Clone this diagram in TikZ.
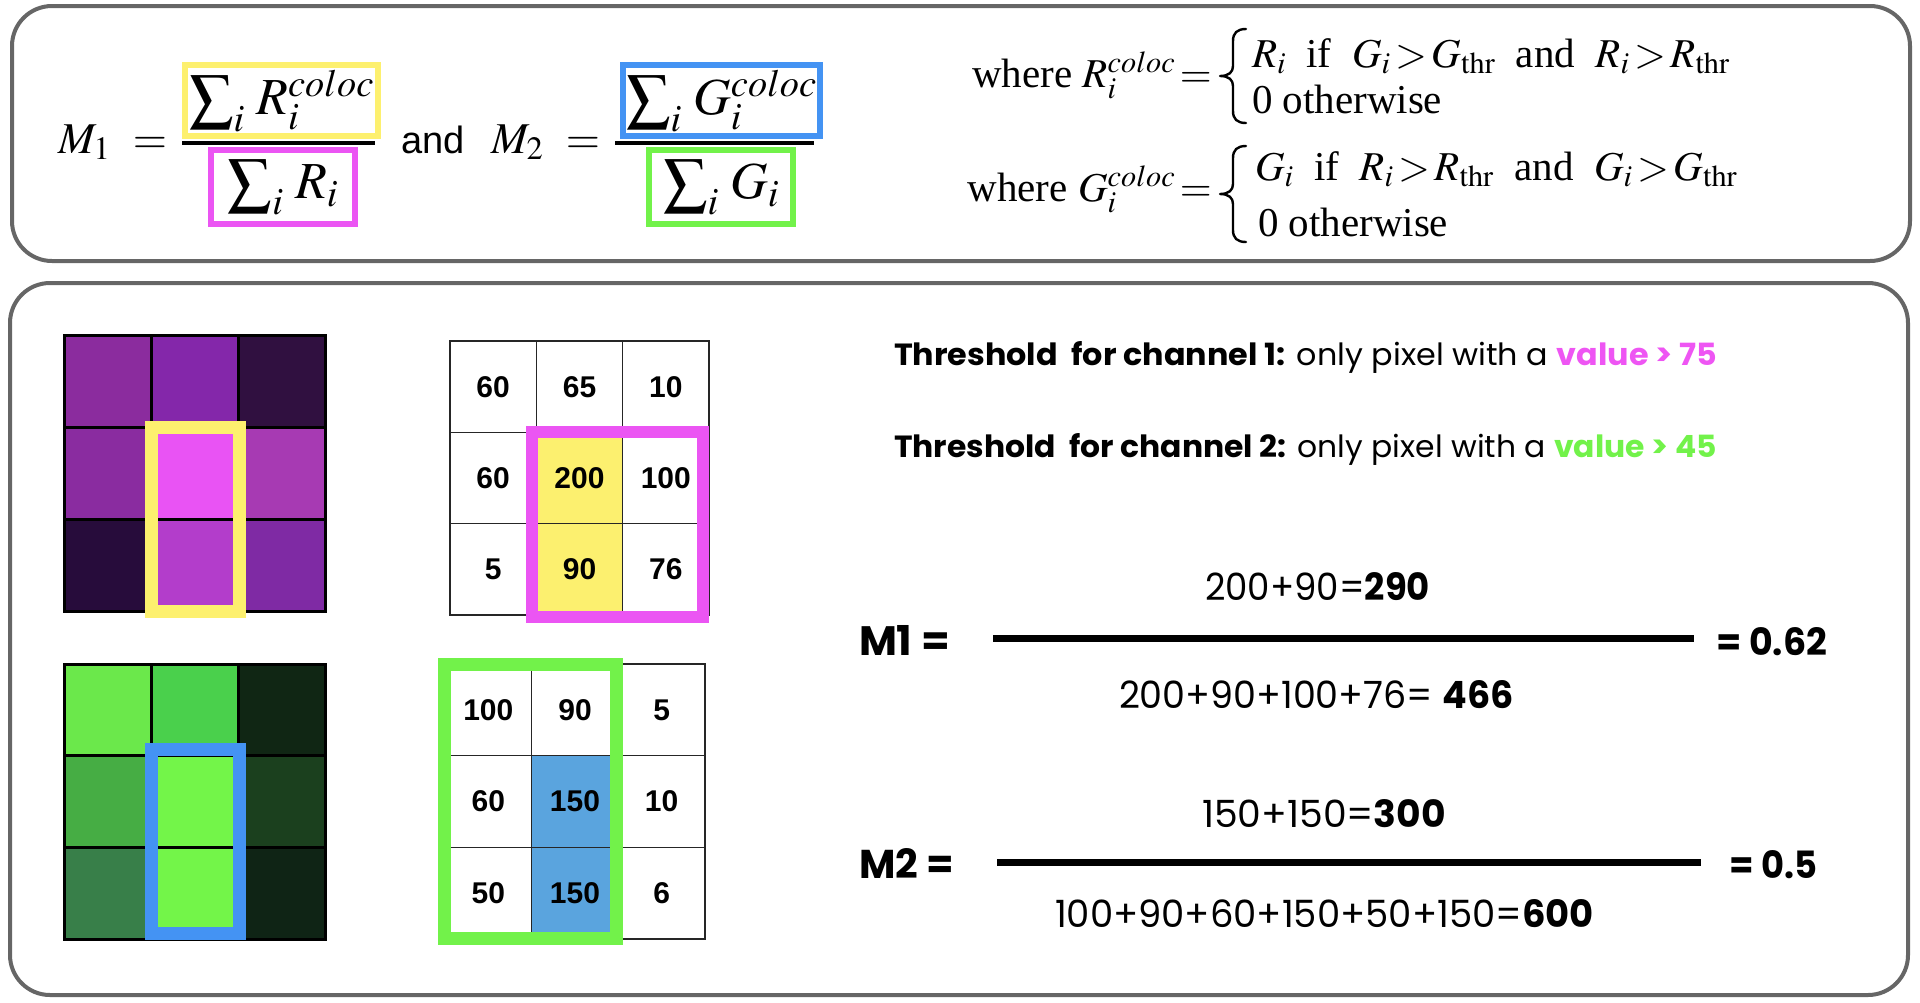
\documentclass[tikz,border=0pt]{standalone}
\usepackage{mathptmx}
\usepackage{fontspec}
\usepackage{graphicx}
\setmainfont{Liberation Serif}
\newfontfamily\sansA{Liberation Sans}
\newfontfamily\geo{Poppins}
\newcommand\myfs[1]{\fontsize{#1}{#1}\selectfont}
\newcommand\fitbox[3]{\resizebox{#1pt}{#2pt}{\geo\myfs{30}#3}}
\newcommand\bigsig{\mbox{\raisebox{-0.06em}{\scalebox{1.2}{$\textstyle\sum$}}}}
\definecolor{framegray}{RGB}{102,102,102}
\definecolor{ybox}{RGB}{253,240,110}
\definecolor{pbox}{RGB}{235,85,243}
\definecolor{bbox}{RGB}{68,147,243}
\definecolor{gbox}{RGB}{114,242,74}
\definecolor{yfill}{RGB}{252,240,111}
\definecolor{bfill}{RGB}{90,164,222}
\definecolor{tpink}{RGB}{238,85,243}
\definecolor{tgreen}{RGB}{114,242,74}
% purple pixels
\definecolor{pa}{RGB}{139,44,158}
\definecolor{pb}{RGB}{132,39,170}
\definecolor{pc}{RGB}{48,16,64}
\definecolor{pd}{RGB}{138,44,160}
\definecolor{pe}{RGB}{233,83,244}
\definecolor{pf}{RGB}{167,58,179}
\definecolor{pg}{RGB}{39,12,59}
\definecolor{ph}{RGB}{179,61,203}
\definecolor{pi}{RGB}{127,42,164}
% green pixels
\definecolor{ga}{RGB}{107,232,75}
\definecolor{gb}{RGB}{74,208,76}
\definecolor{gc}{RGB}{16,38,20}
\definecolor{gd}{RGB}{70,173,68}
\definecolor{ge}{RGB}{115,245,73}
\definecolor{gf}{RGB}{27,64,30}
\definecolor{gg}{RGB}{56,127,73}
\definecolor{gh}{RGB}{115,245,73}
\definecolor{gi}{RGB}{15,36,21}
\begin{document}
\begin{tikzpicture}[x=1pt,y=-1pt,
  frame/.style={draw=framegray, line width=4pt, rounded corners=40pt},
  pix/.style={draw=black, line width=3pt, minimum width=87.33pt, minimum height=92pt, inner sep=0pt, outer sep=0pt},
  tcellA/.style={draw=black!85, line width=1.4pt, minimum width=86.33pt, minimum height=91.33pt, inner sep=0pt, outer sep=0pt, font=\sansA\bfseries\myfs{30}},
  tcellB/.style={tcellA, minimum width=86.67pt, minimum height=91.67pt},
  selbox/.style={line width=13pt, inner sep=0pt, outer sep=0pt},
  fracbox/.style={line width=6pt, inner sep=0pt, outer sep=0pt, font=\myfs{52}},
  txt/.style={anchor=base west, inner sep=0pt, outer sep=0pt},
  deftxt/.style={txt, font=\myfs{41}},
  bar/.style={line width=4pt},
  bigbar/.style={line width=7pt},
  bracepath/.style={line width=2.4pt, line cap=round, line join=round}]
\useasboundingbox (0,0) rectangle (1920,1002);

% frames
\draw[frame] (12,6) rectangle (1910,261);
\draw[frame] (10,283) rectangle (1908,995);

% ---------- top-left formulas ----------
\node[txt, font=\myfs{44}] (m1) at (58,153) {$M_1$};
\node[anchor=base, inner sep=0pt, font=\myfs{44}] (eq1) at (150,153) {$=$};
\draw[bar] (182,143) -- (375,143);
\node[fracbox, draw=ybox, minimum width=193pt, minimum height=71pt] (num1) at (281.5,100.5) {$\bigsig_i\;R_i^{coloc}$};
\node[fracbox, draw=pbox, minimum width=144pt, minimum height=74pt] (den1) at (283,187) {$\bigsig_i\;R_i$};
\node[txt, font=\sansA\myfs{38}] (and) at (401,153) {and};
\node[txt, font=\myfs{44}] (m2) at (491,153) {$M_2$};
\node[anchor=base, inner sep=0pt, font=\myfs{44}] (eq2) at (583,153) {$=$};
\draw[bar] (615,143) -- (814,143);
\node[fracbox, draw=bbox, minimum width=197pt, minimum height=71pt] (num2) at (721.5,100.5) {$\bigsig_i\;G_i^{coloc}$};
\node[fracbox, draw=gbox, minimum width=144pt, minimum height=74pt] (den2) at (721,187) {$\bigsig_i\;G_i$};

% ---------- top-right definitions ----------
\node[anchor=base east, inner sep=0pt, font=\myfs{41}] (w1) at (1212,87) {where $R_i^{coloc}\!=$};
\draw[bracepath] (1246,29) .. controls (1237,29) and (1233,33) .. (1233,41) -- (1233,66)
  .. controls (1233,72) and (1229,76) .. (1220,76)
  .. controls (1229,76) and (1233,80) .. (1233,86) -- (1233,111)
  .. controls (1233,119) and (1237,123) .. (1246,123);
\node[deftxt] (r1a) at (1252,67) {$R_i$\ \ if\ \ $G_i\!>\!G_{\mathrm{thr}}$\ \ and\ \ $R_i\!>\!R_{\mathrm{thr}}$};
\node[deftxt] (r1b) at (1252,113) {0 otherwise};
\node[anchor=base east, inner sep=0pt, font=\myfs{41}] (w2) at (1212,201) {where $G_i^{coloc}\!=$};
\draw[bracepath] (1246,146) .. controls (1237,146) and (1233,150) .. (1233,158) -- (1233,184)
  .. controls (1233,190) and (1229,194) .. (1220,194)
  .. controls (1229,194) and (1233,198) .. (1233,204) -- (1233,230)
  .. controls (1233,238) and (1237,242) .. (1246,242);
\node[deftxt] (r2a) at (1255,180) {$G_i$\ \ if\ \ $R_i\!>\!R_{\mathrm{thr}}$\ \ and\ \ $G_i\!>\!G_{\mathrm{thr}}$};
\node[deftxt] (r2b) at (1258,236) {0 otherwise};

% ---------- purple pixel grid ----------
\node[pix, fill=pa] (p11) at (107.67,381) {};
\node[pix, fill=pb] (p12) at (195,381) {};
\node[pix, fill=pc] (p13) at (282.33,381) {};
\node[pix, fill=pd] (p21) at (107.67,473) {};
\node[pix, fill=pe] (p22) at (195,473) {};
\node[pix, fill=pf] (p23) at (282.33,473) {};
\node[pix, fill=pg] (p31) at (107.67,565) {};
\node[pix, fill=ph] (p32) at (195,565) {};
\node[pix, fill=pi] (p33) at (282.33,565) {};
\node[selbox, draw=ybox, minimum width=88pt, minimum height=184pt] (ysel) at (195.5,519.5) {};

% ---------- channel 1 values ----------
\node[tcellA] (a11) at (493.17,386.67) {60};
\node[tcellA] (a12) at (579.5,386.67) {65};
\node[tcellA] (a13) at (665.83,386.67) {10};
\node[tcellA] (a21) at (493.17,478) {60};
\node[tcellA, fill=yfill] (a22) at (579.5,478) {200};
\node[tcellA] (a23) at (665.83,478) {100};
\node[tcellA] (a31) at (493.17,569.33) {5};
\node[tcellA, fill=yfill] (a32) at (579.5,569.33) {90};
\node[tcellA] (a33) at (665.83,569.33) {76};
\node[selbox, draw=pbox, line width=12pt, minimum width=171pt, minimum height=185pt] (psel) at (617.5,524.5) {};

% ---------- green pixel grid ----------
\node[pix, fill=ga, minimum height=91.67pt] (g11) at (107.67,709.83) {};
\node[pix, fill=gb, minimum height=91.67pt] (g12) at (195,709.83) {};
\node[pix, fill=gc, minimum height=91.67pt] (g13) at (282.33,709.83) {};
\node[pix, fill=gd, minimum height=91.67pt] (g21) at (107.67,801.5) {};
\node[pix, fill=ge, minimum height=91.67pt] (g22) at (195,801.5) {};
\node[pix, fill=gf, minimum height=91.67pt] (g23) at (282.33,801.5) {};
\node[pix, fill=gg, minimum height=91.67pt] (g31) at (107.67,893.17) {};
\node[pix, fill=gh, minimum height=91.67pt] (g32) at (195,893.17) {};
\node[pix, fill=gi, minimum height=91.67pt] (g33) at (282.33,893.17) {};
\node[selbox, draw=bbox, minimum width=88pt, minimum height=184pt] (bsel) at (195.5,841.5) {};

% ---------- channel 2 values ----------
\node[tcellB] (b11) at (488.33,709.83) {100};
\node[tcellB] (b12) at (575,709.83) {90};
\node[tcellB] (b13) at (661.67,709.83) {5};
\node[tcellB] (b21) at (488.33,801.5) {60};
\node[tcellB, fill=bfill] (b22) at (575,801.5) {150};
\node[tcellB] (b23) at (661.67,801.5) {10};
\node[tcellB] (b31) at (488.33,893.17) {50};
\node[tcellB, fill=bfill] (b32) at (575,893.17) {150};
\node[tcellB] (b33) at (661.67,893.17) {6};
\node[selbox, draw=gbox, minimum width=172pt, minimum height=274pt] (gsel) at (530.5,801.5) {};

% ---------- thresholds ----------
\node[txt] (th1) at (894,365) {\fitbox{823}{24}{\textbf{Threshold\ \ for channel 1:} only pixel with a \textcolor{tpink}{\textbf{value > 75}}}};
\node[txt] (th2) at (894,457) {\fitbox{823}{24}{\textbf{Threshold\ \ for channel 2:} only pixel with a \textcolor{tgreen}{\textbf{value > 45}}}};

% ---------- M1 computation ----------
\node[txt] (c1num) at (1205,600) {\fitbox{225}{28}{200+90=\textbf{290}}};
\node[txt] (c1lab) at (859,655) {\fitbox{91}{30}{\textbf{M1 =}}};
\draw[bigbar] (993,638) -- (1694,638);
\node[txt] (c1res) at (1716,655) {\fitbox{111}{28}{\textbf{= 0.62}}};
\node[txt] (c1den) at (1119,708) {\fitbox{395}{28}{200+90+100+76= \textbf{466}}};

% ---------- M2 computation ----------
\node[txt] (c2num) at (1202,827) {\fitbox{244}{28}{150+150=\textbf{300}}};
\node[txt] (c2lab) at (859,878) {\fitbox{95}{30}{\textbf{M2 =}}};
\draw[bigbar] (997,862) -- (1701,862);
\node[txt] (c2res) at (1729,878) {\fitbox{88}{28}{\textbf{= 0.5}}};
\node[txt] (c2den) at (1055,927) {\fitbox{539}{28}{100+90+60+150+50+150=\textbf{600}}};
\end{tikzpicture}
\end{document}
